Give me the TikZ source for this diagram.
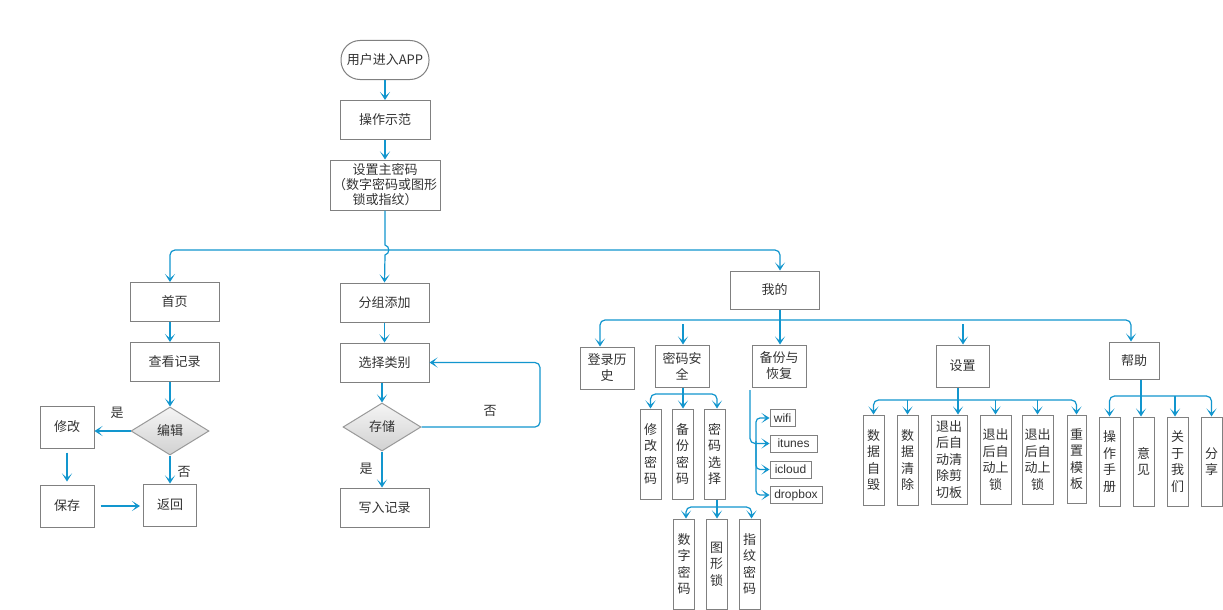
\documentclass[tikz,border=0pt]{standalone}
\usepackage{fontspec}
\setmainfont{Noto Sans CJK SC}
\newfontfamily\latinf{Liberation Sans}
\usetikzlibrary{arrows.meta,shapes.geometric}
\definecolor{lineblue}{RGB}{18,150,206}
\definecolor{boxgray}{RGB}{128,128,128}
\definecolor{txtgray}{RGB}{51,51,51}
\begin{document}
\begin{tikzpicture}[x=1pt,y=-1pt,
 box/.style={draw=boxgray,line width=1pt,text=txtgray,inner sep=0pt,align=center,font=\fontsize{13}{16}\selectfont},
 vbox/.style={box,font=\fontsize{13}{16.5}\selectfont},
 wbox/.style={draw=boxgray,line width=1pt,text=txtgray,inner sep=0pt,font=\latinf\fontsize{12}{14}\selectfont,minimum height=17},
 dia/.style={diamond,draw=boxgray!80,line width=1pt,top color=white!96!black,bottom color=white!82!black,text=txtgray,inner sep=0pt,minimum width=78,minimum height=48,font=\fontsize{13}{16}\selectfont},
 conn/.style={draw=lineblue,line width=1.2pt,-{Stealth[length=8pt,width=10pt,inset=4.5pt]}},
 lbl/.style={text=txtgray,inner sep=0pt,font=\fontsize{13}{16}\selectfont}
]
\useasboundingbox[fill=white] (0,0) rectangle (1223,610);

% top chain
\node[box,rounded corners=19pt,minimum width=88,minimum height=39] (start) at (385,60) {用户进入APP};
\node[box,minimum width=90,minimum height=39] (demo) at (385,120) {操作示范};
\node[box,minimum width=110,minimum height=50,font=\fontsize{13}{15}\selectfont] (setpw) at (385,185) {设置主密码\\（数字密码或图形\\锁或指纹）};
\draw[conn] (start.south) -- (demo.north);
\draw[conn] (demo.south) -- (setpw.north);

% left column
\node[box,minimum width=89,minimum height=39] (home) at (174.5,302) {首页};
\node[box,minimum width=89,minimum height=39] (view) at (174.5,362) {查看记录};
\node[dia] (edit) at (170,431) {编辑};
\node[box,minimum width=54,minimum height=42] (modify) at (67,427) {修改};
\node[box,minimum width=54,minimum height=42] (save) at (67,506) {保存};
\node[box,minimum width=53,minimum height=42] (back) at (170,505) {返回};
\node[lbl] (l1) at (117,413) {是};
\node[lbl] (l2) at (184,472) {否};
\coordinate (colA) at (170,0);
\draw[conn] (colA |- home.south) -- (colA |- view.north);
\draw[conn] (colA |- view.south) -- (edit.north);
\draw[conn] (edit.west) -- (edit.west -| modify.east);
\draw[conn] (edit.south) -- (back.north);
\draw[conn,shorten <=4pt,shorten >=3pt] (modify.south) -- (save.north);
\draw[conn,shorten <=6pt,shorten >=3pt] (save.east) -- (save.east -| back.west);

% middle column
\node[box,minimum width=89,minimum height=39] (group) at (384.5,302.5) {分组添加};
\node[box,minimum width=89,minimum height=39] (choose) at (384.5,362.5) {选择类别};
\node[dia] (store) at (382,427) {存储};
\node[box,minimum width=89,minimum height=39] (write) at (384.5,507.5) {写入记录};
\node[lbl] (l3) at (490,411) {否};
\node[lbl] (l4) at (366,469) {是};
\draw[conn] (group.south) -- (choose.north);
\draw[conn] (store.north |- choose.south) -- (store.north);
\draw[conn] (store.south) -- (store.south |- write.north);
\coordinate (loopx) at (540,0);
\draw[conn,rounded corners=5] (store.east) -- (store.east -| loopx) -- (loopx |- choose.east) -- (choose.east);

% main split
\node[box,minimum width=89,minimum height=38] (mine) at (774.5,290) {我的};
\coordinate (hop) at (385,250);
\draw[conn] (setpw.south) -- (385,245) .. controls (390,246) and (390,254) .. (385,255) -- (group.north);
\draw[conn,rounded corners=5] (hop) -| (colA |- home.north);
\draw[conn,rounded corners=5] (hop) -| ([xshift=5.5]mine.north);

% mine level
\node[box,minimum width=54,minimum height=42] (login) at (607,368) {登录历\\史};
\node[box,minimum width=54,minimum height=42] (pwsec) at (682,366) {密码安\\全};
\node[box,minimum width=54,minimum height=42] (bk) at (779,366) {备份与\\恢复};
\node[box,minimum width=53,minimum height=42] (set) at (962.5,366) {设置};
\node[box,minimum width=50,minimum height=37] (help) at (1134,360.5) {帮助};
\coordinate (mj) at (780,320);
\draw[conn] (mj |- mine.south) -- (mj |- bk.north);
\draw[conn,rounded corners=5] (mj) -| ([xshift=-7]login.north);
\draw[conn,rounded corners=5] (mj) -| ([xshift=-3]help.north);
\coordinate (pa) at (683,324);
\draw[conn] (pa) -- (pa |- pwsec.north);
\coordinate (sa) at (963,324);
\draw[conn] (sa) -- (sa |- set.north);

% password security
\node[vbox,minimum width=21,minimum height=90] (pw1) at (650.5,454) {修\\改\\密\\码};
\node[vbox,minimum width=21,minimum height=90] (pw2) at (682.5,454) {备\\份\\密\\码};
\node[vbox,minimum width=21,minimum height=90] (pw3) at (714.5,454) {密\\码\\选\\择};
\coordinate (psj) at (683,394);
\draw[conn] (psj |- pwsec.south) -- (psj |- pw2.north);
\draw[conn,rounded corners=5] (psj) -| (pw1.north);
\draw[conn,rounded corners=5] (psj) -| ([xshift=2.5]pw3.north);

% password choice
\node[vbox,minimum width=21,minimum height=90] (c1) at (684,564) {数\\字\\密\\码};
\node[vbox,minimum width=21,minimum height=90] (c2) at (716.5,564) {图\\形\\锁};
\node[vbox,minimum width=21,minimum height=90] (c3) at (749.5,564) {指\\纹\\密\\码};
\coordinate (cj) at (717,507);
\draw[conn] (cj |- pw3.south) -- (cj |- c2.north);
\draw[conn,rounded corners=5] (cj) -| ([xshift=2]c1.north);
\draw[conn,rounded corners=5] (cj) -| ([xshift=2]c3.north);

% backup
\node[wbox,minimum width=25] (wifi) at (782.5,418) {wifi};
\node[wbox,minimum width=47] (itunes) at (793.5,443.5) {itunes};
\node[wbox,minimum width=41] (icloud) at (790.5,469.5) {icloud};
\node[wbox,minimum width=52] (dropbox) at (796,495) {dropbox};
\coordinate (bo) at (750,390);
\draw[conn,rounded corners=5] (bo) |- (itunes.west);
\coordinate (bj) at (756,441);
\draw[conn,rounded corners=4] (bj) |- (wifi.west);
\draw[conn,rounded corners=4] (bj) |- (icloud.west);
\draw[conn,rounded corners=4] (bj) |- (dropbox.west);

% settings
\node[vbox,minimum width=21,minimum height=90] (s1) at (873.5,460) {数\\据\\自\\毁};
\node[vbox,minimum width=21,minimum height=90] (s2) at (907.5,460) {数\\据\\清\\除};
\node[vbox,minimum width=36,minimum height=89] (s3) at (949,459.5) {退出\\后自\\动清\\除剪\\切板};
\node[vbox,minimum width=31,minimum height=89] (s4) at (995.5,459.5) {退出\\后自\\动上\\锁};
\node[vbox,minimum width=31,minimum height=89] (s5) at (1037.5,459.5) {退出\\后自\\动上\\锁};
\node[vbox,minimum width=19,minimum height=88] (s6) at (1076.5,459) {重\\置\\模\\板};
\coordinate (sj) at (958,400);
\draw[conn] (sj |- set.south) -- (sj |- s3.north);
\draw[conn,rounded corners=5] (sj) -| (s1.north);
\draw[conn,rounded corners=5] (sj) -| (s6.north);
\draw[conn] (s2.north |- sj) -- (s2.north);
\draw[conn] (s4.north |- sj) -- (s4.north);
\draw[conn] (s5.north |- sj) -- (s5.north);

% help
\node[vbox,minimum width=21,minimum height=89] (h1) at (1109.5,461.5) {操\\作\\手\\册};
\node[vbox,minimum width=21,minimum height=89] (h2) at (1143.5,461.5) {意\\见};
\node[vbox,minimum width=21,minimum height=89] (h3) at (1177.5,461.5) {关\\于\\我\\们};
\node[vbox,minimum width=21,minimum height=89] (h4) at (1211.5,461.5) {分\\享};
\coordinate (hj) at (1141,396);
\coordinate (h3x) at (1175,0);
\draw[conn] (hj |- help.south) -- (hj |- h2.north);
\draw[conn,rounded corners=5] (hj) -| (h1.north);
\draw[conn,rounded corners=5] (hj) -| (h4.north);
\draw[conn] (h3x |- hj) -- (h3x |- h3.north);
\end{tikzpicture}
\end{document}
